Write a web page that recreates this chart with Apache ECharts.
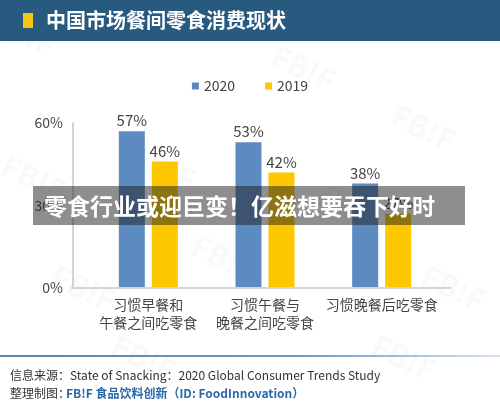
<!DOCTYPE html>
<html>
<head>
<meta charset="utf-8">
<script src="https://cdn.jsdelivr.net/npm/echarts@6/dist/echarts.min.js"></script>
<style>html,body{margin:0;padding:0;background:#fff;}#c{width:500px;height:412px;}</style>
</head>
<body>
<div id="c"></div>
<script>
var categories = ['习惯早餐和\n午餐之间吃零食', '习惯午餐与\n晚餐之间吃零食', '习惯晚餐后吃零食'];
var seriesNames = ['2020', '2019'];
var values2020 = [57, 53, 38];
var values2019 = [46, 42, 27];
var yTicks = [0, 30, 60];

var FONT = '"Noto Sans CJK SC","Noto Sans",sans-serif';
var chart = echarts.init(document.getElementById('c'), null, {renderer: 'canvas'});

var watermarks = [];
[[10,150],[140,140],[280,40],[400,100],[60,260],[200,230],[330,180],[430,260],[120,330],[380,330],[0,5]].forEach(function(p){
  watermarks.push({type:'text', x:p[0], y:p[1], rotation:-0.45, z:-10, silent:true,
    style:{text:'FB!F', fill:'rgba(40,90,128,0.04)', font:'bold 30px '+FONT}});
});

chart.setOption({
  animation: false,
  textStyle: {fontFamily: FONT},
  legend: {
    data: seriesNames, top: 74, left: 'center', itemWidth: 7, itemHeight: 7, itemGap: 30,
    icon: 'rect', textStyle: {fontSize: 14, color: '#444', fontFamily: FONT}
  },
  grid: {left: 90, right: 60, top: 123, bottom: 124},
  xAxis: {
    type: 'category', data: categories,
    axisLine: {show: false}, axisTick: {show: false},
    axisLabel: {interval: 0, fontSize: 14, color: '#444', lineHeight: 18, margin: 8, fontFamily: FONT}
  },
  yAxis: {
    type: 'value', min: yTicks[0], max: yTicks[yTicks.length-1], interval: 30, offset: 17,
    axisLine: {show: true, lineStyle: {color: '#d4d4d4', width: 2}},
    axisTick: {show: false}, splitLine: {show: false},
    axisLabel: {formatter: '{value}%', fontSize: 14, color: '#444', margin: 10}
  },
  series: [
    {name: seriesNames[0], type: 'bar', data: values2020, barWidth: 26, barGap: '27%',
     itemStyle: {color: '#5b8bc0'},
     label: {show: true, position: 'top', distance: 3, formatter: '{c}%', fontSize: 15, color: '#444'}},
    {name: seriesNames[1], type: 'bar', data: values2019, barWidth: 26,
     itemStyle: {color: '#fdc800'},
     label: {show: true, position: 'top', distance: 3, formatter: '{c}%', fontSize: 15, color: '#444'}}
  ],
  graphic: watermarks.concat([
    {type:'rect', shape:{x:0, y:0, width:500, height:41}, style:{fill:'#285a80'}, z:10},
    {type:'rect', shape:{x:23, y:13, width:10, height:15}, style:{fill:'#f5c518'}, z:11},
    {type:'text', x:46, y:20, z:11, style:{text:'中国市场餐间零食消费现状', fill:'#fff', font:'bold 20px '+FONT, textVerticalAlign:'middle'}},
    {type:'line', shape:{x1:71, y1:288, x2:451, y2:288}, style:{stroke:'#d4d4d4', lineWidth:2}, z:5},
    {type:'line', shape:{x1:0, y1:356, x2:500, y2:356}, z:5,
     style:{lineWidth:1.5, stroke:{type:'linear', x:0, y:0, x2:1, y2:0,
       colorStops:[{offset:0, color:'#285a80'},{offset:0.6, color:'#3f78a8'},{offset:1, color:'#c8dcec'}]}}},
    {type:'text', x:10, y:375, z:5, style:{text:'信息来源：State of Snacking：2020 Global Consumer Trends Study', fill:'#333', font:'12px '+FONT, textVerticalAlign:'middle'}},
    {type:'text', x:10, y:393, z:5, style:{text:'整理制图：', fill:'#333', font:'12px '+FONT, textVerticalAlign:'middle'}},
    {type:'text', x:66, y:393, z:5, style:{text:'FB!F 食品饮料创新（ID: FoodInnovation）', fill:'#2a6aa8', font:'bold 12px '+FONT, textVerticalAlign:'middle'}},
    {type:'rect', shape:{x:33, y:186, width:432, height:39}, style:{fill:'rgba(30,30,30,0.5)'}, z:20},
    {type:'text', x:44, y:206, z:21, style:{text:'零食行业或迎巨变！亿滋想要吞下好时', fill:'#fff', font:'bold 23px '+FONT, textVerticalAlign:'middle'}}
  ])
});
</script>
</body>
</html>
